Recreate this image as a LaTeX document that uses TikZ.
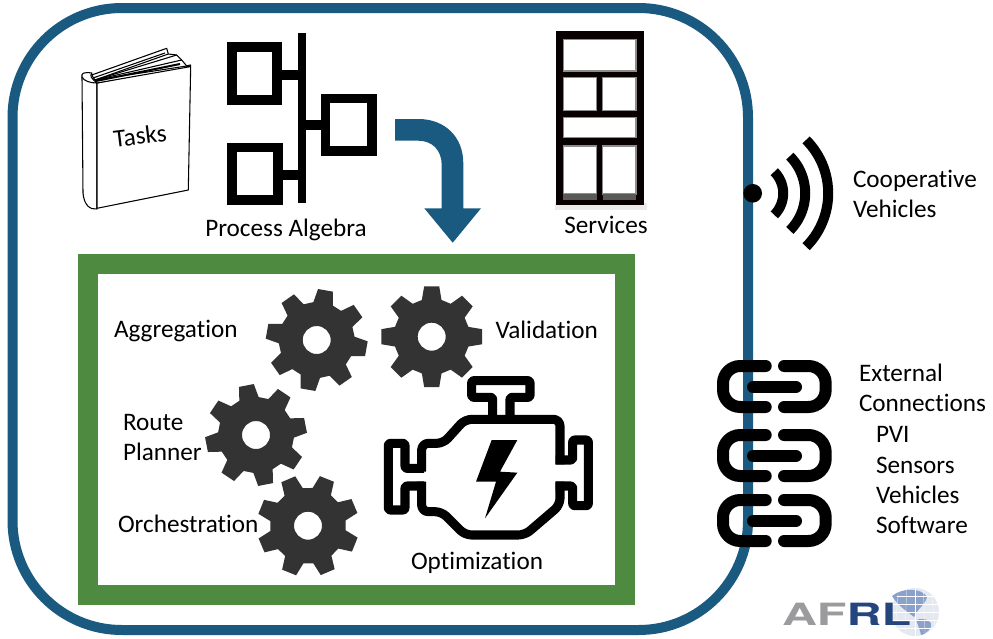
\documentclass[tikz,border=0pt]{standalone}
\usepackage{fontspec}
\usepackage{graphicx}
\setmainfont[Ligatures=CommonOff]{Carlito}
\newfontfamily\logofont{TeX Gyre Heros}
\definecolor{frameblue}{HTML}{1B5A80}
\definecolor{boxgreen}{HTML}{4F8A41}
\definecolor{geargrey}{HTML}{333333}
\definecolor{logogrey}{HTML}{9B9B9D}
\definecolor{logoblue}{HTML}{25457F}
\definecolor{globeblue}{HTML}{E3E8F1}
\definecolor{landblue}{HTML}{8BA0CB}
\tikzset{
  label/.style={font=\fontsize{18.9}{18.9}\selectfont,inner sep=0pt,outer sep=0pt,anchor=base west,text=black,yshift=-0.5pt},
  clabel/.style={label,anchor=base},
  iconline/.style={draw=black,line width=7pt,line join=miter,line cap=butt},
  engineline/.style={draw=black,line width=6.8pt,rounded corners=5pt,line join=round},
  engineflange/.style={engineline,rounded corners=1.5pt},
  linkline/.style={draw=black,line width=9pt,line cap=round,rounded corners=13pt},
  waveline/.style={draw=black,line width=7.5pt},
  bookline/.style={draw=black,line width=0.8pt,line join=round},
}
\newcommand{\gearat}[3]{%
  \begin{scope}[shift={(#1,#2)}]
    \fill[geargrey,even odd rule]
      ({-#3+15}:38) \foreach \k in {0,...,7} {
        -- ({-#3-\k*45+15}:38)
        -- ({-#3-\k*45+8.5}:51)
        -- ({-#3-\k*45-8.5}:51)
        -- ({-#3-\k*45-15}:38)
      } -- cycle
      (14,0) arc[start angle=0,end angle=360,radius=10.5pt];
  \end{scope}}
\newcommand{\linkat}[1]{%
  \begin{scope}[shift={(0,#1)}]
    \draw[linkline] (765.7,366) -- (723,366) -- (723,407) -- (765.7,407);
    \draw[linkline] (784,366) -- (825.7,366) -- (825.7,407) -- (784,407);
    \draw[linkline] (753,387) -- (796,387);
  \end{scope}}
\begin{document}
\begin{tikzpicture}[x=0.75pt,y=-0.75pt]
\useasboundingbox (0,0) rectangle (993,639);
\fill[white] (0,0) rectangle (993,639);

% outer frame
\draw[frameblue,line width=7.5pt,rounded corners=82pt] (12.5,8) rectangle (748,630);

% book
\filldraw[bookline,fill=white] (82,77) -- (83,193) .. controls (84,205) and (90,210) .. (97,209) -- (97,83) -- cycle;
\filldraw[bookline,fill=white] (97,83) -- (190.7,65) -- (188.3,190) -- (97,208.3) -- cycle;
\filldraw[bookline,fill=white] (91.7,75) -- (166.7,48.3) -- (168.3,54) -- (176.7,55) -- (181.7,60) -- (186.7,66) -- (190,66.7) -- (97,83) -- cycle;
\foreach \px/\py in {168.3/54,176.7/55,181.7/60,186.7/66}
  \draw[bookline] (95,80) -- (\px,\py);
\draw[bookline] (93,78) -- (165,53);
\draw[bookline,line width=1.5pt] (96,81) -- (180,64);
\draw[bookline,fill=white] (82,77) .. controls (81,73) and (84,72) .. (92,73) .. controls (90,76) and (90,77) .. (97,83) .. controls (90,83) and (84,81) .. (82,77) -- cycle;
\node[label,rotate=7] (tasks) at (114.5,147) {Tasks};

% process algebra icon
\draw[iconline] (232,47) rectangle (277,100);
\draw[iconline] (232,147.5) rectangle (278,200);
\draw[iconline] (325.5,98.5) rectangle (372,151);
\draw[iconline,line width=5.8pt] (302,33) -- (302,203);
\draw[iconline] (277,75) -- (302,75);
\draw[iconline] (278,175) -- (302,175);
\draw[iconline] (302,125) -- (325,125);
\node[clabel] (process) at (286,236) {Process Algebra};

% flow arrow
\fill[frameblue] (395,119) -- (418.3,119) .. controls (445,119) and (463.3,137) .. (463.3,163.3)
  -- (463.3,208.3) -- (481,208.3) -- (452.7,242.7) -- (424.3,208.3) -- (441.7,208.3) -- (441.7,165)
  .. controls (441.7,150) and (432,140.7) .. (418.3,140.7) -- (395,140.7) -- cycle;

% services icon
\fill[black!8] (555,203) rectangle (647,210);
\fill[black!90!red!30!black] (556,30.5) rectangle (643.5,205);
\foreach \xa/\ya/\xb/\yb in {563.3/39.3/636/71, 563.3/77.7/596.7/110.7, 602.7/77.7/636/110.7, 563.3/117.3/636/137.3, 563.3/146/596.7/194, 602.7/146/636/194}
  \filldraw[fill=white,draw=black!45,line width=0.8pt] (\xa,\ya) rectangle (\xb,\yb);
\fill[black!65] (563.3,194) rectangle (596.7,199.5);
\fill[black!65] (602.7,194) rectangle (636,199.5);
\node[clabel] (services) at (606,233.3) {Services};

% main box
\draw[boxgreen,line width=15pt,fill=white] (88,264) rectangle (625,595);

% gears
\gearat{431.7}{336.7}{0}
\gearat{316.7}{340}{35}
\gearat{256}{435}{11}
\gearat{308}{525.7}{23}

% engine
\begin{scope}[shift={(200,280)},x=0.25pt,y=-0.25pt]
  \draw[engineline] (665,575) -- (665,490) -- (730,490) -- (795,418) -- (1080,418) -- (1080,553);
  \draw[engineline] (1080,605) -- (1080,675) -- (975,765) -- (795,765) -- (725,695) -- (665,695) -- (665,605);
  \draw[engineflange] (1067,540) -- (1118,540) -- (1118,480) -- (1165,480) -- (1165,677) -- (1118,677) -- (1118,618) -- (1067,618);
  \draw[engineflange] (672,565) -- (615,565) -- (615,490) -- (565,490) -- (565,690) -- (615,690) -- (615,618) -- (672,618);
  \draw[engineflange] (878,410) -- (878,352) -- (815,352) -- (815,302) -- (990,302) -- (990,352) -- (930,352) -- (930,410);
  \fill[black] (875,480) -- (952,480) -- (900,575) -- (952,578) -- (855,715) -- (888,605) -- (828,605) -- cycle;
\end{scope}

\node[label] (aggregation) at (114,336.5) {Aggregation};
\node[label] (validation) at (495.5,338.3) {Validation};
\node[label] (route) at (123,430) {Route};
\node[label] (planner) at (123,460) {Planner};
\node[label] (orchestration) at (118,531.7) {Orchestration};
\node[label] (optimization) at (411,569.3) {Optimization};

% wireless
\fill[black] (752.7,193.3) circle[radius=7pt];
\foreach \r in {30.5,52.5,75.5}
  \draw[waveline,domain=-45:45,samples=30,smooth] plot ({752.7+\r*cos(\x)},{193.3+\r*sin(\x)});
\node[label] (coop) at (853,187) {Cooperative};
\node[label] (coopveh) at (853,217) {Vehicles};

% chain
\linkat{0}
\linkat{69}
\linkat{134}
\node[label] (external) at (859,380.7) {External};
\node[label] (connections) at (859,410.7) {Connections};
\node[label] (pvi) at (876,441.7) {PVI};
\node[label] (sensors) at (876,472.7) {Sensors};
\node[label] (vehicles) at (876,502.7) {Vehicles};
\node[label] (software) at (876,533.3) {Software};

% AFRL logo
\fill[globeblue] (915,612) circle[radius=18pt];
\fill[landblue] (892,596) .. controls (903,587) and (922,588) .. (927,597) .. controls (925,605) and (918,608) .. (914,617) .. controls (908,612) and (898,606) .. cycle;
\fill[landblue] (916,620) .. controls (925,617) and (933,621) .. (931,627) .. controls (927,633) and (923,635) .. (921,635) .. controls (920,630) and (918,625) .. cycle;
\begin{scope}
  \clip (915,612) circle[radius=18pt];
  \foreach \d in {-16,-8,0,8,16}
    \draw[white,line width=0.2pt] (915+\d,585) -- (915+\d*1.3,640);
  \foreach \d in {-16,-8,0,8,16}
    \draw[white,line width=0.2pt] (885,612+\d) -- (945,612+\d);
\end{scope}
\node[inner sep=0pt,outer sep=0pt,anchor=base west] (afrl) at (782,625)
  {\scalebox{1.58}[1]{\logofont\bfseries\fontsize{23}{23}\selectfont\textcolor{logogrey}{AF}\textcolor{logoblue}{RL}}};
\end{tikzpicture}
\end{document}
